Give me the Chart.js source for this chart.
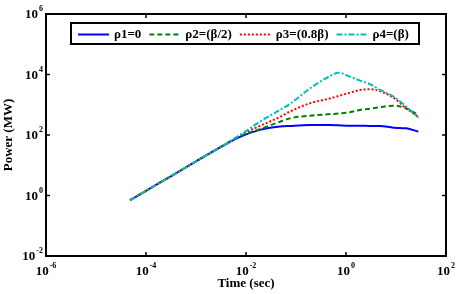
<!DOCTYPE html>
<html>
<head>
<meta charset="utf-8">
<script src="https://cdn.jsdelivr.net/npm/chart.js@4.4.0/dist/chart.umd.min.js"></script>
<style>
    body { margin: 0; background: #fff; }
    #wrap { width: 458px; height: 294px; }
</style>
</head>
<body>
<div id="wrap"><canvas id="powerChart" width="458" height="294"></canvas></div>
<script>
// values (time in sec, power in MW)
const timeSec = [4.8e-5, 1e-4, 3.2e-4, 1e-3, 3.2e-3, 7.6e-3, 0.019, 0.048, 0.076, 0.19, 0.48, 0.71, 1.2, 1.9, 3.0, 4.8, 8.9, 16, 28];
const rho1 = [0.70, 1.43, 4.4, 13.4, 41, 87, 148, 190, 200, 214, 214, 209, 204, 204, 200, 200, 174, 166, 129];
const rho2 = [0.70, 1.43, 4.4, 13.4, 41, 93, 155, 275, 355, 436, 490, 513, 562, 676, 741, 832, 933, 760, 457];
const rho3 = [0.70, 1.43, 4.4, 13.4, 41, 98, 200, 398, 600, 1120, 1620, 1950, 2510, 3090, 3240, 2820, 1700, 760, 398];
const rho4 = [0.70, 1.43, 4.4, 13.4, 41, 100, 275, 676, 1070, 3470, 8900, 11500, 8500, 6300, 4800, 3090, 1860, 871, 372];

const seriesNames = ["ρ1=0", "ρ2=(β/2)", "ρ3=(0.8β)", "ρ4=(β)"];
const xTickExp = [-6, -4, -2, 0, 2];
const yTickExp = [-2, 0, 2, 4, 6];

const FONT = "'Liberation Serif', 'Times New Roman', serif";

function toPoints(values) {
    return values.map((v, i) => ({ x: timeSec[i], y: v }));
}

// draws "10" with a small raised exponent
function drawPow(ctx, exp, x, y, align) {
    const base = "10";
    const sup = String(exp);
    ctx.font = "bold 13px " + FONT;
    const wb = ctx.measureText(base).width;
    ctx.font = "bold 8px " + FONT;
    const ws = ctx.measureText(sup).width;
    const total = wb + ws + 1;
    let left = x;
    if (align === "center") left = x - total / 2;
    if (align === "right") left = x - total;
    ctx.textBaseline = "middle";
    ctx.textAlign = "left";
    ctx.font = "bold 13px " + FONT;
    ctx.fillText(base, left, y);
    ctx.font = "bold 8px " + FONT;
    ctx.fillText(sup, left + wb + 1, y - 6);
}

const framePlugin = {
    id: "frame",
    afterDraw(chart) {
        const ctx = chart.ctx;
        const area = chart.chartArea;
        const xs = chart.scales.x;
        const ys = chart.scales.y;
        ctx.save();
        ctx.fillStyle = "#000";
        ctx.strokeStyle = "#000";

        // box
        ctx.lineWidth = 2;
        ctx.strokeRect(area.left, area.top, area.right - area.left, area.bottom - area.top);

        // inward ticks on all four sides + labels
        ctx.lineWidth = 1.5;
        xTickExp.forEach((e) => {
            const px = xs.getPixelForValue(Math.pow(10, e));
            ctx.beginPath();
            ctx.moveTo(px, area.bottom);
            ctx.lineTo(px, area.bottom - 4);
            ctx.moveTo(px, area.top);
            ctx.lineTo(px, area.top + 4);
            ctx.stroke();
            drawPow(ctx, e, px, area.bottom + 16, "center");
        });
        yTickExp.forEach((e) => {
            const py = ys.getPixelForValue(Math.pow(10, e));
            ctx.beginPath();
            ctx.moveTo(area.left, py);
            ctx.lineTo(area.left + 4, py);
            ctx.moveTo(area.right, py);
            ctx.lineTo(area.right - 4, py);
            ctx.stroke();
            drawPow(ctx, e, area.left - 3, py + 1, "right");
        });

        // legend box inside the plot
        const boxL = area.left + 25;
        const boxT = area.top + 9;
        const boxW = 348;
        const boxH = 21;
        ctx.fillStyle = "#fff";
        ctx.fillRect(boxL, boxT, boxW, boxH);
        ctx.lineWidth = 2;
        ctx.strokeStyle = "#000";
        ctx.strokeRect(boxL, boxT, boxW, boxH);

        let x = boxL + 7;
        const midY = boxT + boxH / 2 + 1;
        chart.data.datasets.forEach((ds) => {
            ctx.beginPath();
            ctx.strokeStyle = ds.borderColor;
            ctx.lineWidth = ds.borderWidth;
            ctx.setLineDash(ds.borderDash || []);
            ctx.moveTo(x, midY);
            ctx.lineTo(x + 31, midY);
            ctx.stroke();
            ctx.setLineDash([]);
            ctx.font = "bold 13px " + FONT;
            ctx.fillStyle = "#000";
            ctx.textAlign = "left";
            ctx.textBaseline = "middle";
            ctx.fillText(ds.label, x + 36, midY);
            x += 36 + ctx.measureText(ds.label).width + 8;
        });
        ctx.restore();
    },
};

const ctx = document.getElementById("powerChart").getContext("2d");

new Chart(ctx, {
    type: "line",
    data: {
        datasets: [
            {
                label: seriesNames[0],
                data: toPoints(rho1),
                borderColor: "#0000ff",
                borderWidth: 2,
                order: 3,
            },
            {
                label: seriesNames[1],
                data: toPoints(rho2),
                borderColor: "#008000",
                borderWidth: 2,
                borderDash: [5, 3],
                order: 2,
            },
            {
                label: seriesNames[2],
                data: toPoints(rho3),
                borderColor: "#ff0000",
                borderWidth: 2,
                borderDash: [2, 2],
                order: 1,
            },
            {
                label: seriesNames[3],
                data: toPoints(rho4),
                borderColor: "#00bfbf",
                borderWidth: 2,
                borderDash: [6, 2, 2, 2],
                order: 0,
            },
        ],
    },
    options: {
        responsive: false,
        animation: false,
        layout: {
            padding: { top: 14, right: 12, left: 0, bottom: 0 },
        },
        elements: {
            point: { radius: 0 },
            line: { cubicInterpolationMode: "monotone", fill: false },
        },
        scales: {
            x: {
                type: "logarithmic",
                min: 1e-6,
                max: 1e2,
                afterBuildTicks: (scale) => {
                    scale.ticks = xTickExp.map((e) => ({ value: Math.pow(10, e) }));
                },
                afterFit: (scale) => {
                    scale.height = 38;
                },
                ticks: { display: false },
                grid: { display: false, drawTicks: false },
                border: { display: false },
                title: {
                    display: true,
                    text: "Time (sec)",
                    color: "#000",
                    font: { family: FONT, size: 13, weight: "bold" },
                    padding: { top: 0, bottom: 3 },
                },
            },
            y: {
                type: "logarithmic",
                min: 1e-2,
                max: 1e6,
                afterBuildTicks: (scale) => {
                    scale.ticks = yTickExp.map((e) => ({ value: Math.pow(10, e) }));
                },
                afterFit: (scale) => {
                    scale.width = 46;
                },
                ticks: { display: false },
                grid: { display: false, drawTicks: false },
                border: { display: false },
                title: {
                    display: true,
                    text: "Power (MW)",
                    color: "#000",
                    font: { family: FONT, size: 13, weight: "bold" },
                    padding: { top: 1, bottom: 0 },
                },
            },
        },
        plugins: {
            legend: { display: false },
            tooltip: { enabled: false },
        },
    },
    plugins: [framePlugin],
});
</script>
</body>
</html>
